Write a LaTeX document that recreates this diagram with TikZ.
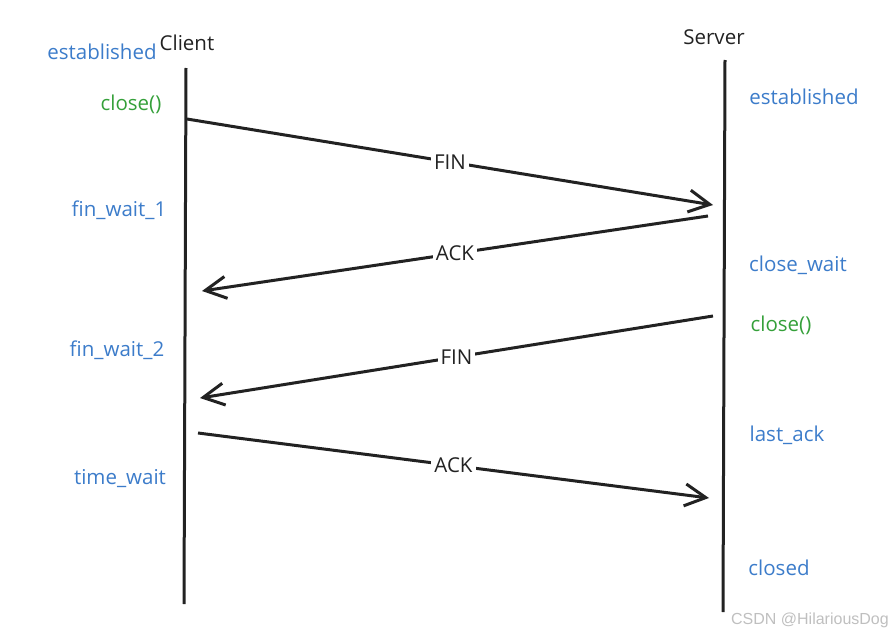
\documentclass[tikz,border=0pt]{standalone}
\usepackage{fontspec}
\setmainfont{Open Sans}
\newfontfamily\markfont{Liberation Sans}
\usetikzlibrary{arrows.meta,positioning}
\definecolor{state}{HTML}{3C7CCA}
\definecolor{call}{HTML}{35A03A}
\definecolor{ink}{HTML}{222222}

\begin{document}
\begin{tikzpicture}[x=1pt,y=-1pt,
    life/.style={draw=ink, line width=3pt},
    msg/.style={draw=ink, line width=3pt,
      -{Straight Barb[length=21pt,width=22pt,line width=3pt]}},
    msglabel/.style={fill=white, text=ink, inner sep=3pt,
      font=\fontsize{20.5}{24}\selectfont},
    who/.style={text=ink, font=\fontsize{20.5}{24}\selectfont},
    statelabel/.style={text=state, font=\fontsize{20.5}{24}\selectfont},
    calllabel/.style={text=call, font=\fontsize{20.5}{24}\selectfont}]
  \useasboundingbox (0,0) rectangle (895,634);

  % lifelines
  \coordinate (cTop) at (186,68);
  \coordinate (cBot) at (184,604);
  \coordinate (sTop) at (725,60);
  \coordinate (sBot) at (723,612);
  \draw[life] (cTop) -- (cBot);
  \draw[life] (sTop) -- (sBot);

  \node[who] (client) at (187,43) {Client};
  \node[who] (server) at (714,37) {Server};

  % client side states
  \node[statelabel] (cEst) at (102,52) {established};
  \node[calllabel] (cClose) at (131,104) {close()};
  \node[statelabel] (cFw1) at (119,210) {fin\_wait\_1};
  \node[statelabel] (cFw2) at (117,350) {fin\_wait\_2};
  \node[statelabel] (cTw) at (120,479) {time\_wait};

  % server side states
  \node[statelabel] (sEst) at (804,97) {established};
  \node[statelabel] (sCw) at (798,265) {close\_wait};
  \node[calllabel] (sClose) at (781,325) {close()};
  \node[statelabel] (sLa) at (787,435) {last\_ack};
  \node[statelabel] (sClosed) at (779,568) {closed};

  % message end points
  \coordinate (finA) at (187,119);
  \coordinate (finB) at (713,205);
  \coordinate (ackA) at (708,216);
  \coordinate (ackB) at (202,291);
  \coordinate (fin2A) at (713,316);
  \coordinate (fin2B) at (200,398);
  \coordinate (ack2A) at (198,433);
  \coordinate (ack2B) at (709,498);

  \draw[msg] (finA) -- node[msglabel, pos=0.5] (finL) {FIN} (finB);
  \draw[msg] (ackA) -- node[msglabel, pos=0.5] (ackL) {ACK} (ackB);
  \draw[msg] (fin2A) -- node[msglabel, pos=0.5] (fin2L) {FIN} (fin2B);
  \draw[msg] (ack2A) -- node[msglabel, pos=0.5] (ack2L) {ACK} (ack2B);

  \node[text=black!25, font=\markfont\fontsize{16}{18}\selectfont]
    (mark) at (810,620) {CSDN @HilariousDog};
\end{tikzpicture}
\end{document}
